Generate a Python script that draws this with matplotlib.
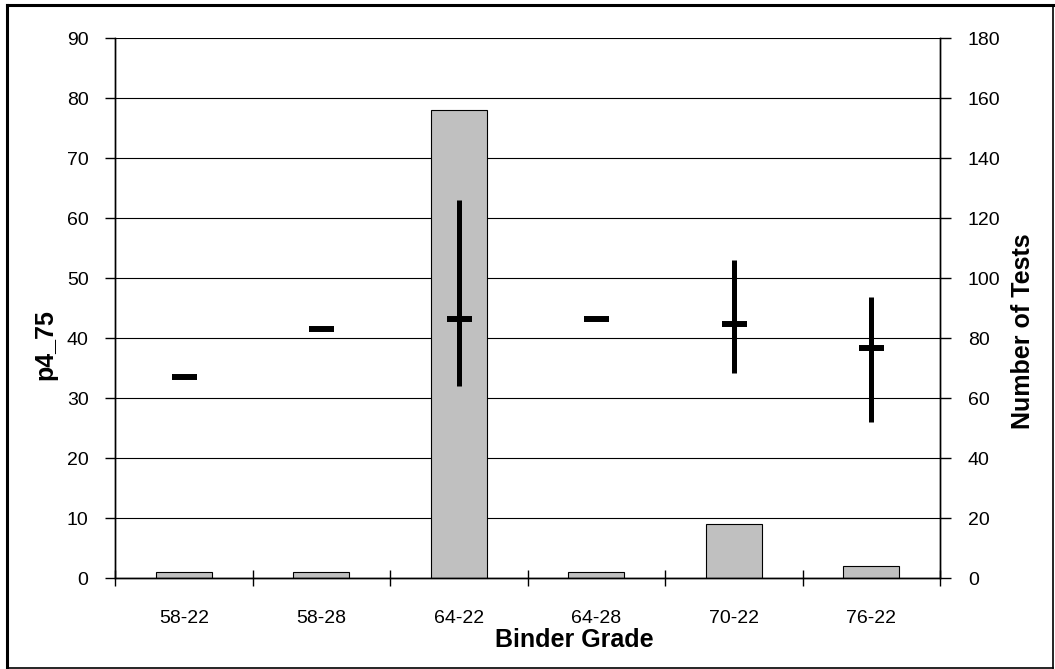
import numpy as np
import matplotlib.pyplot as plt
from matplotlib.lines import Line2D

plt.rcParams['font.family'] = ['Liberation Sans', 'DejaVu Sans']

# data
grades = ['58-22', '58-28', '64-22', '64-28', '70-22', '76-22']
p4_mean = [33.6, 41.6, 43.2, 43.2, 42.4, 38.4]
p4_min = [33.2, 41.2, 32.0, 43.2, 34.2, 26.1]
p4_max = [33.6, 41.6, 63.1, 43.2, 53.0, 46.9]
n_tests = [2, 2, 156, 2, 18, 4]

W, H = 1055, 669
fig = plt.figure(figsize=(W / 100, H / 100), dpi=100)
ax = fig.add_axes([115 / W, 1 - 578.3 / H, 825 / W, 540 / H])
ax2 = ax.twinx()

x = np.arange(len(grades))

# bars: number of tests on right axis
ax2.bar(x, n_tests, width=0.41, color='#c0c0c0', edgecolor='black', linewidth=0.8, zorder=2)
ax2.set_ylim(0, 180)
ax2.set_yticks(np.arange(0, 181, 20))
ax2.grid(axis='y', color='black', linewidth=0.8)
ax2.set_axisbelow(True)

# range lines and means on left axis
ax.set_zorder(ax2.get_zorder() + 1)
ax.patch.set_visible(False)
ax.vlines(x, p4_min, p4_max, color='black', linewidth=3.6)
ax.plot(x, p4_mean, linestyle='none', marker='_', markersize=18, markeredgewidth=4.3, color='black')
ax.set_ylim(0, 90)
ax.set_yticks(np.arange(0, 91, 10))
ax.set_xlim(-0.5, len(grades) - 0.5)

# x ticks: labels at centres, crossing ticks at the boundaries
ax.set_xticks(x)
ax.set_xticklabels(grades)
ax.set_xticks(np.arange(-0.5, len(grades)), minor=True)
ax.tick_params(axis='x', which='major', length=0, pad=23, labelsize=14)
ax.tick_params(axis='x', which='minor', direction='inout', length=12, width=1)
ax.tick_params(axis='y', direction='out', length=7, width=1, pad=12, labelsize=14)
ax2.tick_params(axis='y', direction='out', length=8, width=1, pad=12, labelsize=14)

for a in (ax, ax2):
    a.spines['top'].set_visible(False)
    for s in ('left', 'right', 'bottom'):
        a.spines[s].set_linewidth(1)
        a.spines[s].set_color('black')

ax.set_xlabel('Binder Grade', fontsize=18, fontweight='bold')
ax.xaxis.set_label_coords((574 - 115) / 825, -(640 - 578.3) / 540)
ax.xaxis.label.set_va('center')

ax.set_ylabel('p4_75', fontsize=18, fontweight='bold')
ax.yaxis.set_label_coords((45 - 115) / 825, 1 - (345 - 38.3) / 540)
ax.yaxis.label.set_va('center')

ax2.set_ylabel('Number of Tests', fontsize=18, fontweight='bold', rotation=90)
ax2.yaxis.set_label_coords((1023 - 115) / 825, 1 - (331.5 - 38.3) / 540)
ax2.yaxis.label.set_va('center')

# chart border
fig.add_artist(Line2D([6.5 / W, 6.5 / W], [0, 1 - 5 / H], transform=fig.transFigure, color='black', linewidth=2.2))
fig.add_artist(Line2D([6.5 / W, 1053 / W], [1 - 5 / H, 1 - 5 / H], transform=fig.transFigure, color='black', linewidth=2.2))
fig.add_artist(Line2D([1053 / W, 1053 / W], [1 / H, 1 - 5 / H], transform=fig.transFigure, color='black', linewidth=1.2))
fig.add_artist(Line2D([6.5 / W, 1053 / W], [1 / H, 1 / H], transform=fig.transFigure, color='black', linewidth=1.2))

fig.savefig('out.png', dpi=100, facecolor='white')
